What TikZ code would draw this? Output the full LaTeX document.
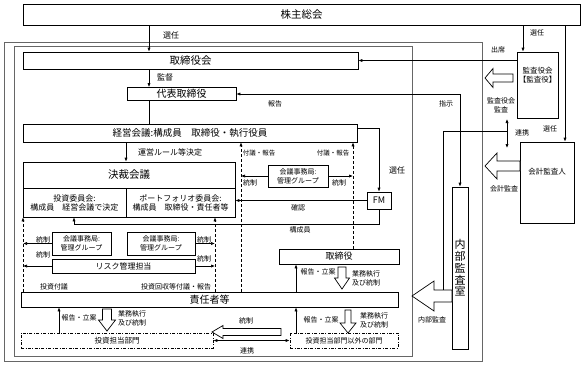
\documentclass[tikz,border=0pt]{standalone}
\usepackage{fontspec}
\setmainfont{Noto Sans CJK JP}
\usepackage{tikz}
\usetikzlibrary{arrows.meta, positioning, calc}
\newcommand{\fsz}[2]{\fontsize{#1}{#2}\selectfont}
\tikzstyle{frame} = [draw=black!60, line width=0.6pt]
\tikzstyle{block} = [rectangle, draw=black, line width=0.7pt, inner sep=0pt, align=center]
\tikzstyle{headblock} = [block, font=\fsz{10.5}{12}]
\tikzstyle{cellblock} = [block, font=\fsz{8}{9}]
\tikzstyle{secblock} = [block, font=\fsz{7}{9}]
\tikzstyle{deptblock} = [block, dash pattern=on 3pt off 1.5pt on 0.8pt off 1.5pt, font=\fsz{7.5}{9}]
\tikzstyle{lbl} = [inner sep=0pt, align=center, font=\fsz{7}{9}]
\tikzstyle{arrow} = [line width=0.7pt, -{Latex[length=4pt,width=3.2pt]}]
\tikzstyle{dblarrow} = [line width=0.7pt, {Latex[length=4pt,width=3.2pt]}-{Latex[length=4pt,width=3.2pt]}]
\tikzstyle{dasharrow} = [arrow, dash pattern=on 3pt off 2pt]
\tikzstyle{plain} = [line width=0.7pt]
\tikzstyle{hollow} = [draw=black, line width=0.7pt, fill=white, line join=miter]
% tip, rotation, length, shaft half width, head half width, head length
\newcommand{\fatarrow}[6]{\draw[hollow, shift={(#1)}, rotate=#2] (0,0) -- (#6,#5) -- (#6,#4) -- (#3,#4) -- (#3,-#4) -- (#6,-#4) -- (#6,-#5) -- cycle;}

\begin{document}
\begin{tikzpicture}[x=1pt, y=-1pt, font=\fsz{7}{9}]
  \useasboundingbox (0,0) rectangle (587,367);
  % Frames
  \draw[frame] (4,42) rectangle (482,361);
  \draw[frame] (14,46) rectangle (412,356);

  % Governance
  \node[headblock, minimum width=557, minimum height=21] (gm) at (301.5,14.5) {株主総会};
  \node[headblock, minimum width=335, minimum height=17] (board) at (190.5,60.5) {取締役会};
  \node[headblock, font=\fsz{10}{12}, minimum width=109, minimum height=13] (ceo) at (181.5,94) {代表取締役};
  \node[headblock, font=\fsz{9.5}{12}, minimum width=334, minimum height=18] (mgmt) at (190,133)
    {経営会議:構成員　取締役・執行役員};

  % Decision meeting
  \node[headblock, minimum width=212, minimum height=26] (kessai) at (129,175) {決裁会議};
  \node[cellblock, minimum width=103, minimum height=29] (invc) at (74.5,202.5)
    {投資委員会:\\構成員　経営会議で決定};
  \node[cellblock, minimum width=109, minimum height=29] (pfc) at (180.5,202.5)
    {ポートフォリオ委員会:\\構成員　取締役・責任者等};
  \node[block, font=\fsz{9}{10}, minimum width=24, minimum height=17] (fm) at (379,200.5) {FM};
  \node[secblock, minimum width=60, minimum height=22] (secA) at (298,176) {会議事務局:\\管理グループ};
  \node[secblock, minimum width=59, minimum height=23] (secB) at (81.5,243.5) {会議事務局:\\管理グループ};
  \node[secblock, minimum width=68, minimum height=23] (secC) at (161,243.5) {会議事務局:\\管理グループ};
  \node[cellblock, minimum width=143, minimum height=14] (risk) at (123.5,266) {リスク管理担当};

  % Execution
  \node[block, font=\fsz{9}{10}, minimum width=120, minimum height=15] (dir) at (339,256.5) {取締役};
  \node[headblock, font=\fsz{10}{12}, minimum width=377, minimum height=15] (mgr) at (209.5,299.5) {責任者等};
  \node[deptblock, minimum width=192, minimum height=15] (invdept) at (117,340.5) {投資担当部門};
  \node[deptblock, font=\fsz{7}{9}, minimum width=108, minimum height=15] (othdept) at (344,340.5)
    {投資担当部門以外の部門};

  % Audit side
  \node[block, minimum width=41, minimum height=66] (aud) at (537.5,85) {};
  \node[lbl, font=\fsz{7.5}{8.5}] (audtxt) at (537.5,75) {監査役会\\【監査役】};
  \node[block, minimum width=54, minimum height=81] (acc) at (547,182.5) {};
  \node[lbl, font=\fsz{7.5}{9}] (acctxt) at (547,172) {会計監査人};
  \node[block, font=\fsz{11}{11.75}, minimum width=16, minimum height=162] (ia) at (460,268)
    {内\\部\\監\\査\\室};

  % Line positions
  \coordinate (xspine) at (149,0);
  \coordinate (xrule) at (126,0);
  \coordinate (xdashA) at (241,0);
  \coordinate (xdashB) at (353,0);
  \coordinate (xdashL) at (23,0);
  \coordinate (xdashR) at (215,0);
  \coordinate (xrepA) at (296,0);
  \coordinate (xrepB) at (59,0);
  \coordinate (xaud) at (523,0);
  \coordinate (xacc) at (565,0);
  \coordinate (mbr) at (74,224);
  \coordinate (lkA) at (443,131);
  \coordinate (lkB) at (507,131);
  \coordinate (lkT) at (507,119);
  \coordinate (lkD) at (507,148);

  % Main arrows
  \draw[arrow] (gm.south -| xspine) -- (board.north -| xspine);
  \draw[arrow] (board.south -| xspine) -- (ceo.north -| xspine);
  \draw[plain] (ceo.south -| xspine) -- (mgmt.north -| xspine);
  \draw[arrow] (mgmt.south -| xrule) -- (kessai.north -| xrule);
  \draw[dblarrow] (ceo.east) -| (ia.north);
  \draw[arrow] (aud.west |- board.east) -- (board.east);
  \draw[arrow] (gm.south -| xaud) -- (aud.north -| xaud);
  \draw[arrow] (gm.south -| xacc) -- (acc.north -| xacc);

  % FM
  \draw[arrow] ($(mgmt.east)+(0,-5)$) -| (fm.north);
  \draw[arrow] (fm.west) -- (fm.west -| pfc.east);
  \draw[arrow] (fm.south) |- (mbr) -- (invc.south -| mbr);

  % Proposals (dashed)
  \draw[dasharrow] (mgr.north -| xdashA) -- (mgmt.south -| xdashA);
  \draw[dasharrow] (dir.north -| xdashB) -- (mgmt.south -| xdashB);
  \draw[dasharrow] (mgr.north -| xdashL) -- (invc.south -| xdashL);
  \draw[dasharrow] (mgr.north -| xdashR) -- (pfc.south -| xdashR);

  % Control
  \draw[arrow] (secA.west) -- (secA.west -| xdashA);
  \draw[arrow] (secA.east) -- (secA.east -| xdashB);
  \draw[arrow] (secB.west) -- (secB.west -| xdashL);
  \draw[arrow] (secC.east) -- (secC.east -| xdashR);
  \draw[arrow] (risk.west) -- (risk.west -| xdashL);
  \draw[arrow] (risk.east) -- (risk.east -| xdashR);

  % Reports
  \draw[arrow] (mgr.north -| xrepA) -- (dir.south -| xrepA);
  \draw[arrow] (invdept.north -| xrepB) -- (mgr.south -| xrepB);
  \draw[arrow] (othdept.north -| xrepA) -- (mgr.south -| xrepA);
  \draw[dblarrow] (invdept.east) -- (othdept.west);

  % Liaison
  \draw[plain] ($(ia.west)+(0,22)$) -| (lkA) -- (lkB);
  \draw[dblarrow] (lkT) -- (lkD);

  % Hollow arrows
  \fatarrow{485,78}{0}{28}{4}{9.5}{8}
  \fatarrow{485,166}{0}{35}{5}{13}{12}
  \fatarrow{412,296}{0}{40}{6}{15}{22}
  \fatarrow{212,332}{0}{69}{3.5}{6.5}{11}
  \fatarrow{342,289}{90}{22}{4}{7.5}{11}
  \fatarrow{107,331}{90}{22}{4.5}{8.5}{11}
  \fatarrow{348,333}{90}{23}{3}{8}{10}

  % Labels
  \node[lbl, font=\fsz{8}{9}] (lbSelGM) at (171,35) {選任};
  \node[lbl, font=\fsz{8}{9}] (lbSup) at (165,77) {監督};
  \node[lbl] (lbRep) at (275,104) {報告};
  \node[lbl] (lbInst) at (446,104) {指示};
  \node[lbl] (lbAtt) at (498,50) {出席};
  \node[lbl] (lbSelAud) at (537,33) {選任};
  \node[lbl, font=\fsz{7}{9}] (lbAudAud) at (501,105.5) {監査役会\\監査};
  \node[lbl] (lbLink) at (522,133) {連携};
  \node[lbl] (lbSelAcc) at (550,129) {選任};
  \node[lbl] (lbAccAud) at (504,189) {会計監査};
  \node[lbl, font=\fsz{8}{9}] (lbRule) at (170,152) {運営ルール等決定};
  \node[lbl, font=\fsz{6.5}{9}] (lbPropA) at (259,153) {付議・報告};
  \node[lbl, font=\fsz{6.5}{9}] (lbPropB) at (333,153) {付議・報告};
  \node[lbl] (lbCtlA) at (250,183) {統制};
  \node[lbl] (lbCtlB) at (339,183) {統制};
  \node[lbl, font=\fsz{8}{9}] (lbSelFM) at (397,170) {選任};
  \node[lbl] (lbConf) at (298,208) {確認};
  \node[lbl] (lbMbr) at (300,230) {構成員};
  \node[lbl] (lbCtlC) at (43,240) {統制};
  \node[lbl] (lbCtlD) at (204,240) {統制};
  \node[lbl] (lbCtlE) at (43,255) {統制};
  \node[lbl] (lbCtlF) at (204,259) {統制};
  \node[lbl] (lbInvProp) at (54,287) {投資付議};
  \node[lbl] (lbRecProp) at (176,287) {投資回収等付議・報告};
  \node[lbl] (lbPlanA) at (318,272) {報告・立案};
  \node[lbl] (lbExecA) at (366,278.5) {業務執行\\及び統制};
  \node[lbl] (lbPlanB) at (79,318) {報告・立案};
  \node[lbl] (lbExecB) at (132,318) {業務執行\\及び統制};
  \node[lbl] (lbCtlG) at (246,321) {統制};
  \node[lbl] (lbLinkB) at (247,351) {連携};
  \node[lbl] (lbPlanC) at (321,320) {報告・立案};
  \node[lbl] (lbExecC) at (374,320.5) {業務執行\\及び統制};
  \node[lbl] (lbIntAud) at (432,320) {内部監査};
\end{tikzpicture}
\end{document}
